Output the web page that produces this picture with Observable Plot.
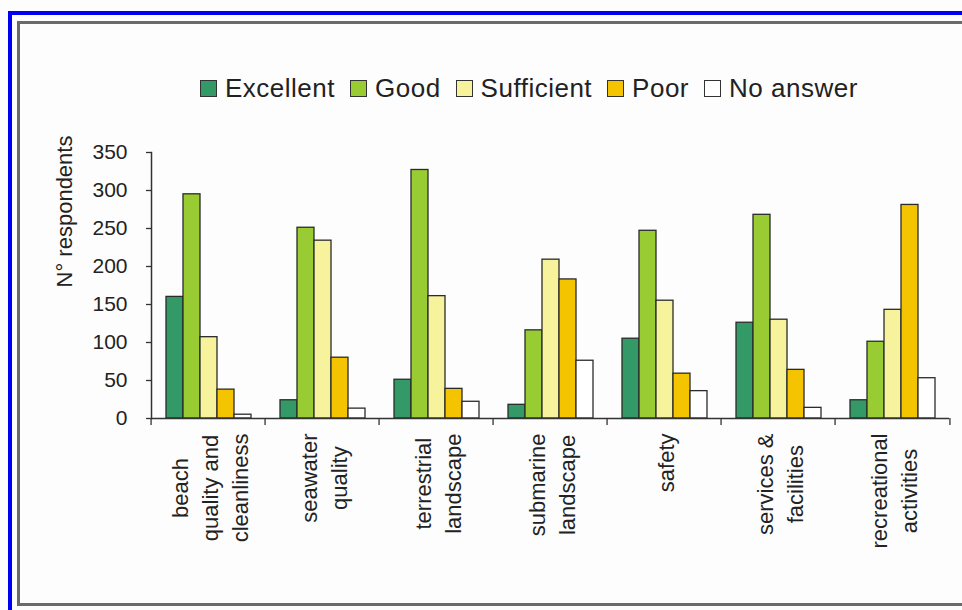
<!DOCTYPE html>
<html>
<head>
<meta charset="utf-8">
<script src="https://cdn.jsdelivr.net/npm/d3@7"></script>
<script src="https://cdn.jsdelivr.net/npm/@observablehq/plot@0.6"></script>
<style>
  html, body { margin: 0; padding: 0; background: #ffffff; }
  #wrap { position: relative; width: 962px; height: 610px; overflow: hidden; background: #fdfdfd; font-family: "Liberation Sans", Arial, sans-serif; }
  #legend { position: relative; height: 120px; }
  #legend .row { position: absolute; left: 200px; top: 74px; display: flex; align-items: center; white-space: nowrap; }
  #legend .item { display: flex; align-items: center; margin-right: 15px; }
  #legend .sw { width: 15px; height: 15px; border: 1px solid #333; margin-right: 8px; }
  #legend .lab { font-size: 26px; letter-spacing: 0.5px; color: #222; line-height: 28px; }
  #chart { position: relative; }
  .blue { position: absolute; left: 8px; top: 11px; right: -20px; bottom: -20px; border-left: 4px solid #0000f2; border-top: 4px solid #0000f2; pointer-events: none; }
  .gray { position: absolute; left: 17px; top: 21px; right: -20px; height: 585px; box-sizing: border-box; border: 3px solid #6a6a6a; border-right: none; pointer-events: none; }
</style>
</head>
<body>
<div id="wrap">
  <div id="legend"><div class="row"></div></div>
  <div id="chart"></div>
  <div class="blue"></div>
  <div class="gray"></div>
</div>
<script>
// ---- data ----
const categories = ["beach quality and cleanliness", "seawater quality", "terrestrial landscape", "submarine landscape", "safety", "services & facilities", "recreational activities"];
const categoryLines = [["beach", "quality and", "cleanliness"], ["seawater", "quality"], ["terrestrial", "landscape"], ["submarine", "landscape"], ["safety"], ["services &", "facilities"], ["recreational", "activities"]];
const series = ["Excellent", "Good", "Sufficient", "Poor", "No answer"];
const excellent  = [160, 24, 51, 18, 105, 126, 24];
const good       = [295, 251, 327, 116, 247, 268, 101];
const sufficient = [107, 234, 161, 209, 155, 130, 143];
const poor       = [38, 80, 39, 183, 59, 64, 281];
const noAnswer   = [5, 13, 22, 76, 36, 14, 53];
const yTicks = [0, 50, 100, 150, 200, 250, 300, 350];
const yLabel = "N° respondents";
const colors = ["#339966", "#99cc33", "#f7f39c", "#f5c400", "#ffffff"];

const seriesValues = [excellent, good, sufficient, poor, noAnswer];
const data = categories.flatMap((c, i) => series.map((s, j) => ({category: c, series: s, value: seriesValues[j][i]})));

// ---- legend ----
const row = d3.select("#legend .row");
series.forEach((s, j) => {
  const it = row.append("div").attr("class", "item");
  it.append("div").attr("class", "sw").style("background", colors[j]);
  it.append("span").attr("class", "lab").text(s);
});

// ---- chart ----
const W = 962, H = 480, mL = 148, mR = 10, mT = 32, mB = 182;
const band = (W - mL - mR) / categories.length;

const chart = Plot.plot({
  width: W, height: H,
  marginTop: mT, marginBottom: mB, marginLeft: mL, marginRight: mR,
  style: {fontFamily: "'Liberation Sans', Arial, sans-serif", fontSize: "21px", color: "#222", background: "transparent", overflow: "visible"},
  fx: {domain: categories, padding: 0, label: null},
  x: {domain: series, axis: null, paddingInner: 0, paddingOuter: 0.73},
  y: {domain: [0, 350], label: null},
  color: {domain: series, range: colors},
  marks: [
    Plot.barY(data, {fx: "category", x: "series", y: "value", fill: "series", stroke: "#2b2b2b", strokeWidth: 1.3}),
    Plot.ruleY([0], {stroke: "#333", strokeWidth: 1.5}),
    Plot.frame({anchor: "left", facetAnchor: "left", stroke: "#333", strokeWidth: 1.5}),
    Plot.axisY({ticks: yTicks, tickSize: 5, tickPadding: 19, fontSize: 21, label: null, stroke: "#333", strokeWidth: 1.3}),
    Plot.axisFx({anchor: "bottom", tickSize: 7, tickFormat: () => "", label: null, dx: -band / 2, stroke: "#333", strokeWidth: 1.3}),
    Plot.axisFx({anchor: "bottom", ticks: [categories[categories.length - 1]], tickSize: 7, tickFormat: () => "", label: null, dx: band / 2, stroke: "#333", strokeWidth: 1.3}),
    Plot.text(categories, {fx: d => d, text: (d, i) => categoryLines[i].join("\n"), frameAnchor: "bottom", rotate: -90, textAnchor: "end", lineAnchor: "middle", lineHeight: 1.36, fontSize: 22, dy: 15, fill: "#222"}),
    Plot.text([yLabel], {fx: () => categories[0], frameAnchor: "left", rotate: -90, textAnchor: "middle", fontSize: 22, dx: -87, dy: -74, fill: "#222"})
  ]
});
document.getElementById("chart").appendChild(chart);

// center the lines of each multi-line category label, keeping the longest line's end at the anchor
chart.querySelectorAll("text").forEach(t => {
  const ts = t.querySelectorAll("tspan");
  if (ts.length < 2) return;
  const lens = Array.from(ts, s => s.getComputedTextLength());
  const max = Math.max(...lens);
  ts.forEach(s => { s.setAttribute("x", -max / 2); s.setAttribute("text-anchor", "middle"); });
});
</script>
</body>
</html>
